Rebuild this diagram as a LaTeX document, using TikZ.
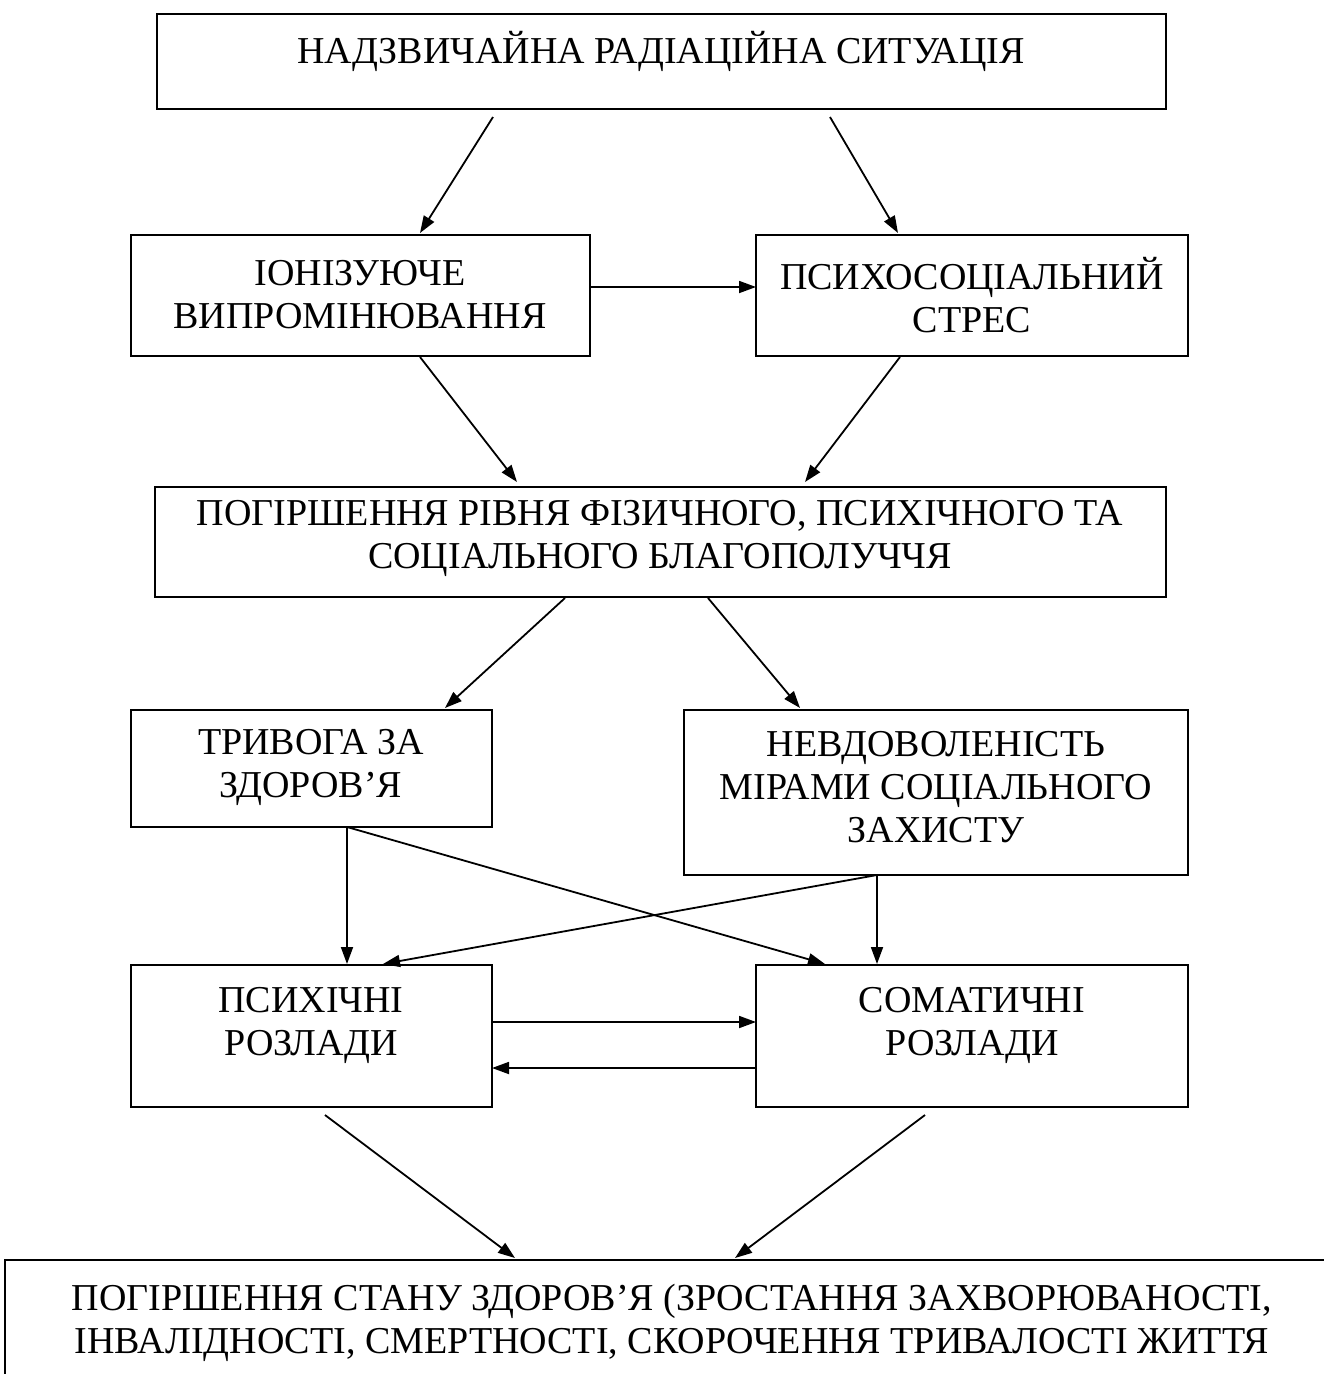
\documentclass[tikz,border=0pt]{standalone}
\usepackage{fontspec}
\setmainfont{Liberation Serif}
\usetikzlibrary{arrows.meta}
\begin{document}
\begin{tikzpicture}[x=1pt,y=-1pt,
  box/.style={draw,line width=2pt,inner sep=0pt,outer sep=0pt,anchor=north west},
  txt/.style={align=center,inner sep=0pt,font=\fontsize{38}{43}\selectfont},
  arr/.style={line width=1.8pt,-{Triangle[length=17pt,width=12pt]}}]
\useasboundingbox (0,0) rectangle (1324,1374);
\clip (0,0) rectangle (1324,1374);
% boxes
\node[box,minimum width=1009pt,minimum height=95pt] (top) at (157,14) {};
\node[box,minimum width=459pt,minimum height=121pt] (ion) at (131,235) {};
\node[box,minimum width=432pt,minimum height=121pt] (psy) at (756,235) {};
\node[box,minimum width=1011pt,minimum height=110pt] (wel) at (155,487) {};
\node[box,minimum width=361pt,minimum height=117pt] (anx) at (131,710) {};
\node[box,minimum width=504pt,minimum height=165pt] (dis) at (684,710) {};
\node[box,minimum width=361pt,minimum height=142pt] (men) at (131,965) {};
\node[box,minimum width=432pt,minimum height=142pt] (som) at (756,965) {};
\node[box,minimum width=1400pt,minimum height=300pt] (bot) at (5,1260) {};
% texts
\node[txt] (ttop) at (661,51) {НАДЗВИЧАЙНА РАДІАЦІЙНА СИТУАЦІЯ};
\node[txt] (tion) at (360,295) {ІОНІЗУЮЧЕ\\ВИПРОМІНЮВАННЯ};
\node[txt] (tpsy) at (972,295) {ПСИХОСОЦІАЛЬНИЙ\\СТРЕС};
\node[txt] (twel) at (660,538) {ПОГІРШЕННЯ РІВНЯ ФІЗИЧНОГО, ПСИХІЧНОГО ТА\\СОЦІАЛЬНОГО БЛАГОПОЛУЧЧЯ};
\node[txt] (tanx) at (311,767) {ТРИВОГА ЗА\\ЗДОРОВ’Я};
\node[txt] (tdis) at (936,787) {НЕВДОВОЛЕНІСТЬ\\МІРАМИ СОЦІАЛЬНОГО\\ЗАХИСТУ};
\node[txt] (tmen) at (311,1025) {ПСИХІЧНІ\\РОЗЛАДИ};
\node[txt] (tsom) at (972,1025) {СОМАТИЧНІ\\РОЗЛАДИ};
\node[txt] (tbot) at (672,1323) {ПОГІРШЕННЯ СТАНУ ЗДОРОВ’Я (ЗРОСТАННЯ ЗАХВОРЮВАНОСТІ,\\ІНВАЛІДНОСТІ, СМЕРТНОСТІ, СКОРОЧЕННЯ ТРИВАЛОСТІ ЖИТТЯ};
% arrow end points
\coordinate (a1s) at (493,117); \coordinate (a1e) at (420,233);
\coordinate (a2s) at (830,117); \coordinate (a2e) at (898,233);
\coordinate (b1s) at (420,357); \coordinate (b1e) at (517,482);
\coordinate (b2s) at (900,357); \coordinate (b2e) at (805,482);
\coordinate (c1s) at (565,598); \coordinate (c1e) at (445,708);
\coordinate (c2s) at (708,598); \coordinate (c2e) at (800,708);
\coordinate (d1s) at (347,827); \coordinate (d1e) at (347,964);
\coordinate (d2e) at (825,964);
\coordinate (e1s) at (877,875); \coordinate (e1e) at (877,964);
\coordinate (e2e) at (383,964);
\coordinate (f1s) at (325,1115); \coordinate (f1e) at (515,1258);
\coordinate (f2s) at (925,1115); \coordinate (f2e) at (735,1258);
% connectors
\draw[arr] (a1s) -- (a1e);
\draw[arr] (a2s) -- (a2e);
\draw[arr] (ion.east |- 0,287) -- (psy.west |- 0,287);
\draw[arr] (b1s) -- (b1e);
\draw[arr] (b2s) -- (b2e);
\draw[arr] (c1s) -- (c1e);
\draw[arr] (c2s) -- (c2e);
\draw[arr] (d1s) -- (d1e);
\draw[arr] (d1s) -- (d2e);
\draw[arr] (e1s) -- (e1e);
\draw[arr] (e1s) -- (e2e);
\draw[arr] (men.east |- 0,1022) -- (som.west |- 0,1022);
\draw[arr] (som.west |- 0,1068) -- (men.east |- 0,1068);
\draw[arr] (f1s) -- (f1e);
\draw[arr] (f2s) -- (f2e);
\end{tikzpicture}
\end{document}
